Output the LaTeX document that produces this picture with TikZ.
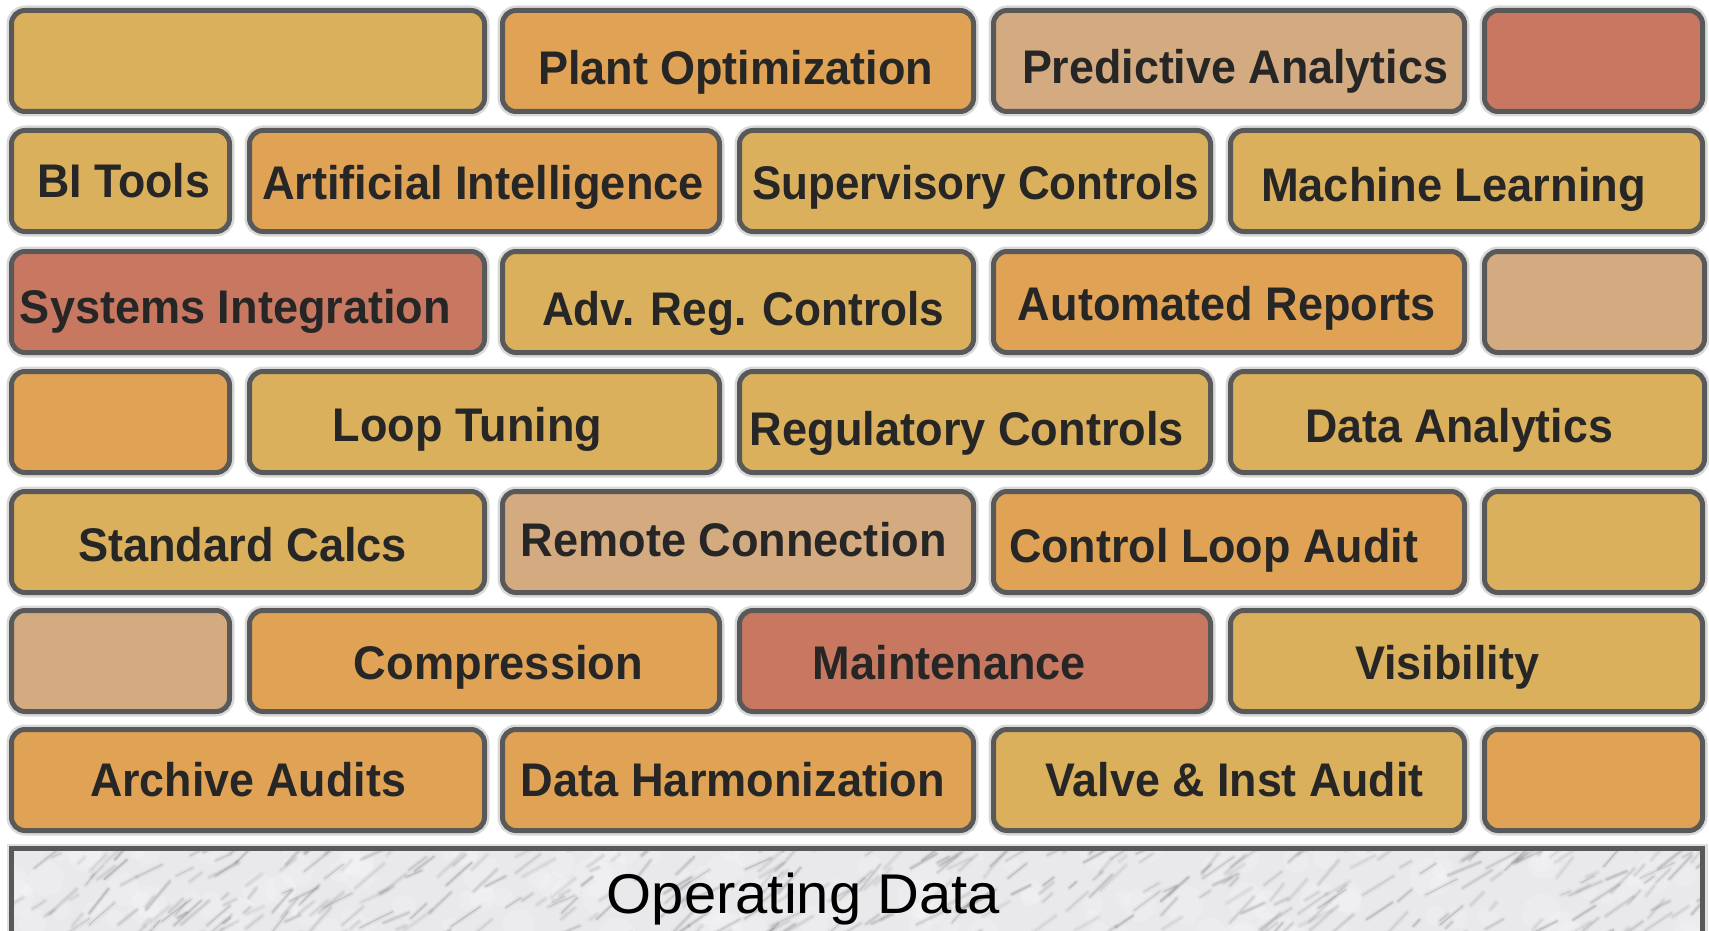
\documentclass[tikz,border=0pt]{standalone}
\usepackage{fontspec}
\setmainfont{Liberation Sans}
\usepackage{graphicx}

\definecolor{bYel}{HTML}{DBB05C}
\definecolor{bOra}{HTML}{E0A356}
\definecolor{bTan}{HTML}{D4AB80}
\definecolor{bRed}{HTML}{C87860}
\definecolor{edge}{HTML}{595959}
\definecolor{ink}{HTML}{262626}
\definecolor{marble}{HTML}{E9E9EB}
\definecolor{vein}{HTML}{7A7A80}

\newdimen\pxu \pxu=0.5pt

% a brick: name, left, right, top (outer edges, px), fill colour
\newcommand\brick[5]{%
  \node[brick, fill=#5, minimum width={(#3-#2-5)*0.5pt}, minimum height={101*0.5pt}]
    (#1) at ({(#2+#3)/2},{#4+53}) {};}
% a brick label: name, centre x, baseline y, printed width (px), text
\newcommand\blabel[5]{%
  \node[blabel] (#1) at (#2,#3) {\resizebox{#4\pxu}{\height}{#5}};}

\begin{document}
\begin{tikzpicture}[x=0.5pt,y=-0.5pt,
  brick/.style={draw=edge, line width=2.5pt, rounded corners=6.75pt,
    inner sep=0pt, outer sep=0pt, preaction={draw=black!15, line width=5pt}},
  blabel/.style={anchor=base, inner sep=0pt, outer sep=0pt, text=ink,
    font=\fontsize{23.6}{28}\selectfont\bfseries},
  baselabel/.style={anchor=base, inner sep=0pt, outer sep=0pt, text=black,
    font=\fontsize{28}{33}\selectfont}]
\useasboundingbox[fill=white] (0,0) rectangle (1709,931);

% ---- row 1
\brick{r1a}{9}{487}{8}{bYel}
\brick{r1b}{500}{976}{8}{bOra}
\brick{r1c}{991}{1467}{8}{bTan}
\brick{r1d}{1482}{1705}{8}{bRed}
% ---- row 2
\brick{r2a}{9}{232}{128}{bYel}
\brick{r2b}{247}{722}{128}{bOra}
\brick{r2c}{737}{1213}{128}{bYel}
\brick{r2d}{1228}{1705}{128}{bYel}
% ---- row 3
\brick{r3a}{9}{487}{249}{bRed}
\brick{r3b}{500}{976}{249}{bYel}
\brick{r3c}{991}{1467}{249}{bOra}
\brick{r3d}{1482}{1707}{249}{bTan}
% ---- row 4
\brick{r4a}{9}{232}{369}{bOra}
\brick{r4b}{247}{722}{369}{bYel}
\brick{r4c}{737}{1213}{369}{bYel}
\brick{r4d}{1228}{1707}{369}{bYel}
% ---- row 5
\brick{r5a}{9}{487}{489}{bYel}
\brick{r5b}{500}{976}{489}{bTan}
\brick{r5c}{991}{1467}{489}{bOra}
\brick{r5d}{1482}{1705}{489}{bYel}
% ---- row 6
\brick{r6a}{9}{232}{608}{bTan}
\brick{r6b}{247}{722}{608}{bOra}
\brick{r6c}{737}{1213}{608}{bRed}
\brick{r6d}{1228}{1705}{608}{bYel}
% ---- row 7
\brick{r7a}{9}{487}{727}{bOra}
\brick{r7b}{500}{976}{727}{bOra}
\brick{r7c}{991}{1467}{727}{bYel}
\brick{r7d}{1482}{1705}{727}{bOra}

% ---- labels
\blabel{tPlant}{735.5}{85}{395}{Plant Optimization}
\blabel{tPred}{1235}{84}{426}{Predictive Analytics}
\blabel{tBI}{123.7}{198}{173}{BI Tools}
\blabel{tAI}{483}{200}{442}{Artificial Intelligence}
\blabel{tSup}{975.5}{200}{447}{Supervisory Controls}
\blabel{tML}{1453.5}{202}{385}{Machine Learning}
\blabel{tSys}{235.5}{323.5}{431}{Systems Integration}
\blabel{tAdv}{743}{325}{402}{Adv. Reg. Controls}
\blabel{tAuto}{1227}{321}{418}{Automated Reports}
\blabel{tLoop}{467.5}{441.7}{269}{Loop Tuning}
\blabel{tReg}{967}{445}{434}{Regulatory Controls}
\blabel{tDA}{1459}{442}{308}{Data Analytics}
\blabel{tStd}{242.5}{561}{329}{Standard Calcs}
\blabel{tRem}{733.7}{556}{426}{Remote Connection}
\blabel{tCLA}{1213.5}{562}{409}{Control Loop Audit}
\blabel{tComp}{498.5}{679}{289}{Compression}
\blabel{tMaint}{949.5}{679}{273}{Maintenance}
\blabel{tVis}{1447}{679}{184}{Visibility}
\blabel{tArch}{248}{796}{316}{Archive Audits}
\blabel{tHarm}{733}{796}{424}{Data Harmonization}
\blabel{tValve}{1234.6}{796}{378}{Valve \& Inst Audit}

% ---- marble foundation slab
\draw[black!12, line width=5pt] (11.5,940) -- (11.5,848.5) -- (1702.5,848.5) -- (1702.5,940);
\begin{scope}
  \clip (11.5,848.5) rectangle (1702.5,935);
  \fill[marble] (11.5,848.5) rectangle (1702.5,935);
  \pgfmathsetseed{4242}
  % soft pale patches
  \foreach \i in {1,...,140}{
    \pgfmathsetmacro\sx{5+1700*rnd}
    \pgfmathsetmacro\sy{845+95*rnd}
    \pgfmathsetmacro\sr{6+14*rnd}
    \fill[white, opacity=0.18] (\sx,\sy) circle[radius=\sr];
  }
  % diagonal grey veins, each with a faint halo
  \foreach \i in {1,...,360}{
    \pgfmathsetmacro\sx{5+1700*rnd}
    \pgfmathsetmacro\sy{845+95*rnd}
    \pgfmathsetmacro\sl{8+30*rnd}
    \pgfmathsetmacro\sa{22+30*rnd}
    \pgfmathsetmacro\so{0.10+0.22*rnd}
    \pgfmathsetmacro\sw{0.5+0.8*rnd}
    \draw[vein, line width=2.6pt, opacity=0.07, line cap=round]
      (\sx,\sy) -- ++({\sl*cos(\sa)},{-\sl*sin(\sa)});
    \draw[vein, line width=\sw pt, opacity=\so, line cap=round]
      (\sx,\sy) -- ++({\sl*cos(\sa)},{-\sl*sin(\sa)});
  }
\end{scope}
\draw[edge, line width=2.5pt] (11.5,940) -- (11.5,848.5) -- (1702.5,848.5) -- (1702.5,940);
\node[baselabel] (tOD) at (803.4,913.3) {\resizebox{393\pxu}{\height}{Operating Data}};
\end{tikzpicture}
\end{document}
